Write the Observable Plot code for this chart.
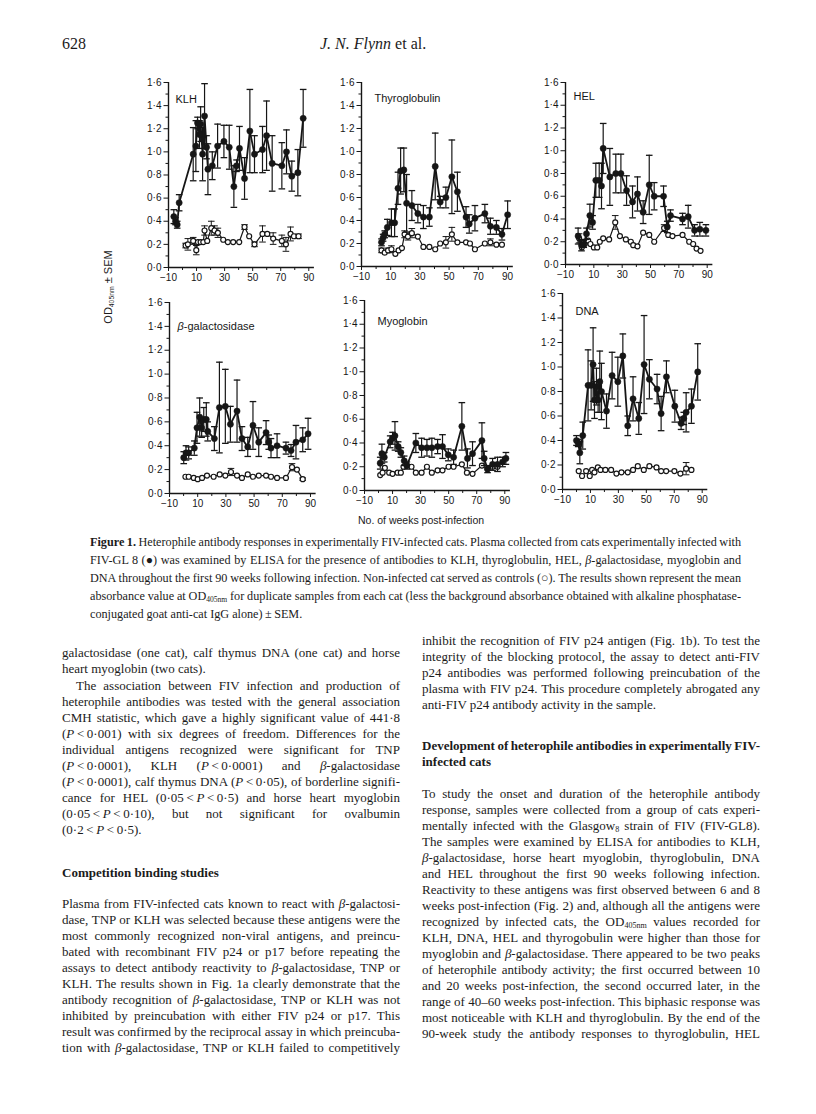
<!DOCTYPE html>
<html>
<head>
<meta charset="utf-8">
<script src="https://cdn.jsdelivr.net/npm/d3@7"></script>
<script src="https://cdn.jsdelivr.net/npm/@observablehq/plot@0.6"></script>
<style>
html,body{margin:0;padding:0;background:#fff;}
body{width:816px;height:1114px;position:relative;overflow:hidden;font-family:"Liberation Serif","Times New Roman",serif;color:#1b1b1b;}
.abs{position:absolute;white-space:nowrap;}
.panel{position:absolute;}
.panel svg{overflow:visible;}
.ln{position:absolute;white-space:nowrap;font-size:13px;line-height:16px;}
.cap{position:absolute;white-space:nowrap;font-size:12.2px;line-height:18px;}
sub{font-size:0.62em;vertical-align:-0.25em;line-height:0;}
.sans{font-family:"Liberation Sans",Arial,sans-serif;}
</style>
</head>
<body>
<div class="abs" style="left:62px;top:35px;font-size:16px;">628</div>
<div class="abs" style="left:320px;top:35px;font-size:16px;"><i>J. N. Flynn</i> et al.</div>

<div id="panels"></div>

<div class="abs sans" id="ylab" style="font-size:11px;left:58px;top:280px;width:100px;height:14px;line-height:14px;text-align:center;transform:rotate(-90deg);transform-origin:50px 7px;">OD<sub>405nm</sub> ± SEM</div>
<div class="abs sans" style="font-size:10.5px;left:358px;top:514px;">No. of weeks post-infection</div>

<div id="text"></div>

<script>
// ---------------- data: [week, mean OD405nm, SEM] ----------------
const weekTicks = [-10, 10, 30, 50, 70, 90];
const weekMinorTicks = [0, 20, 40, 60, 80];
const odTicks = [0, 0.2, 0.4, 0.6, 0.8, 1.0, 1.2, 1.4, 1.6];
const odMinorTicks = [0.1, 0.3, 0.5, 0.7, 0.9, 1.1, 1.3, 1.5];
const panelTitles = ["KLH", "Thyroglobulin", "HEL", "β-galactosidase", "Myoglobin", "DNA"];

const klhInfected = [[-6.2,0.44,0.06],[-5.0,0.40,0.03],[-3.8,0.37,0.03],[-2.4,0.56,0.07],[7.6,0.98,0.23],[9.5,1.05,0.22],[10.7,1.25,0.05],[12.1,1.15,0.12],[12.9,1.24,0.15],[14.3,0.98,0.23],[15.7,1.31,0.28],[17.1,1.04,0.10],[18.1,0.85,0.22],[21.2,0.88,0.12],[25.0,1.05,0.19],[29.5,1.09,0.14],[33.3,1.04,0.19],[36.6,0.70,0.18],[38.5,0.88,0.05],[40.6,1.03,0.19],[44.2,0.77,0.18],[48.0,1.18,0.36],[51.3,0.98,0.16],[57.0,1.02,0.20],[59.9,1.14,0.30],[63.9,0.90,0.24],[70.8,0.88,0.20],[74.1,1.00,0.19],[77.9,0.79,0.13],[82.2,0.82,0.20],[86.0,1.29,0.25]];
const klhControl = [[2.2,0.19,0.02],[3.8,0.20,0.05],[7.6,0.23,0.03],[9.8,0.15,0.04],[11.0,0.22,0],[12.9,0.22,0],[14.8,0.22,0],[15.7,0.32,0.04],[17.6,0.23,0],[20.5,0.34,0.06],[22.8,0.32,0.04],[25.2,0.30,0.04],[29.0,0.24,0],[32.3,0.22,0],[36.1,0.22,0],[40.4,0.22,0],[44.2,0.35,0.02],[47.5,0.27,0],[51.3,0.20,0.02],[57.0,0.29,0.07],[60.4,0.29,0],[64.6,0.25,0.05],[70.8,0.23,0.05],[73.7,0.20,0.06],[77.0,0.29,0.06],[79.4,0.27,0],[82.7,0.27,0.02]];

const thyInfected = [[3.7,0.21,0.03],[4.8,0.25,0.03],[5.9,0.28,0.03],[7.7,0.34,0.07],[10.5,0.38,0.12],[12.7,0.38,0.12],[15.0,0.68,0.14],[16.8,0.83,0.20],[19.0,0.84,0.19],[20.9,0.55,0.25],[24.5,0.53,0.13],[28.6,0.46,0.08],[32.4,0.43,0.10],[36.5,0.43,0.08],[40.5,0.87,0.29],[43.9,0.56,0.05],[47.8,0.60,0.09],[51.9,0.78,0.32],[55.7,0.65,0.17],[61.6,0.43,0.09],[63.8,0.37,0.08],[67.7,0.42,0.11],[74.5,0.46,0.08],[78.3,0.35,0.07],[82.4,0.34,0.06],[86.2,0.28,0.05],[90.1,0.45,0.12]];
const thyControl = [[3.7,0.14,0.02],[5.9,0.12,0],[8.2,0.14,0.02],[10.5,0.15,0.03],[13.2,0.11,0],[15.4,0.14,0],[17.7,0.16,0],[19.5,0.28,0.03],[21.8,0.26,0.03],[24.5,0.29,0.04],[28.6,0.26,0],[32.4,0.17,0],[36.5,0.17,0],[40.5,0.15,0],[43.9,0.20,0],[47.8,0.21,0.05],[51.9,0.28,0.06],[55.7,0.21,0],[61.6,0.21,0],[64.3,0.20,0],[67.7,0.15,0],[74.5,0.20,0],[78.3,0.21,0.03],[82.4,0.19,0],[86.2,0.19,0]];

const helInfected = [[-1.1,0.25,0.07],[1.3,0.17,0.05],[2.9,0.18,0.03],[4.8,0.27,0.05],[7.2,0.43,0.10],[9.1,0.37,0.06],[11.4,0.74,0.15],[13.8,0.74,0.15],[15.4,0.69,0.20],[16.6,1.02,0.22],[21.3,0.77,0.25],[25.5,0.80,0.17],[29.1,0.80,0.17],[33.1,0.65,0.13],[37.3,0.55,0.14],[40.8,0.62,0.15],[44.8,0.46,0.10],[49.1,0.70,0.26],[52.6,0.60,0.12],[59.2,0.60,0.09],[61.8,0.33,0.05],[64.1,0.43,0.05],[72.6,0.40,0.05],[76.6,0.42,0.10],[81.1,0.30,0.05],[84.8,0.31,0.06],[89.1,0.30,0.05]];
const helControl = [[-0.4,0.23,0.04],[1.5,0.15,0],[3.6,0.18,0],[6.0,0.21,0],[7.6,0.18,0],[10.0,0.15,0],[12.4,0.15,0],[14.2,0.20,0],[16.6,0.23,0],[20.8,0.22,0],[25.1,0.37,0.06],[28.4,0.25,0],[32.6,0.22,0],[36.1,0.20,0],[37.8,0.17,0],[40.8,0.16,0],[44.8,0.28,0],[49.1,0.26,0],[52.6,0.20,0],[59.6,0.32,0.03],[62.5,0.26,0],[65.5,0.25,0],[72.6,0.26,0],[77.3,0.20,0],[80.1,0.18,0],[82.5,0.14,0],[85.3,0.12,0]];

const bgalInfected = [[0.1,0.30,0.05],[1.7,0.34,0.06],[3.6,0.34,0.05],[7.6,0.38,0.06],[9.5,0.55,0.13],[11.4,0.64,0.16],[12.8,0.55,0.08],[14.3,0.62,0.10],[16.1,0.62,0.14],[17.1,0.52,0.08],[21.8,0.46,0.10],[25.4,0.72,0.38],[29.6,0.73,0.31],[33.2,0.58,0.15],[37.9,0.69,0.26],[41.4,0.46,0.10],[45.5,0.39,0.08],[49.2,0.57,0.20],[53.3,0.43,0.12],[58.5,0.51,0.10],[60.4,0.43,0.06],[62.0,0.38,0.08],[66.3,0.40,0.10],[72.6,0.38,0.05],[76.2,0.36,0.05],[79.7,0.43,0.14],[84.5,0.45,0.10],[88.3,0.50,0.13]];
const bgalControl = [[1.3,0.14,0],[3.6,0.14,0],[7.2,0.13,0],[10.0,0.12,0],[13.1,0.13,0],[16.6,0.15,0],[21.3,0.14,0],[25.6,0.16,0],[29.6,0.15,0],[33.6,0.18,0.03],[37.9,0.15,0],[41.4,0.13,0],[45.5,0.16,0],[49.2,0.14,0],[53.3,0.15,0],[58.5,0.15,0],[62.0,0.14,0],[66.3,0.13,0],[72.6,0.13,0],[76.9,0.22,0.03],[80.4,0.20,0],[84.5,0.12,0.01]];

const myoInfected = [[1.2,0.23,0.05],[2.4,0.31,0.08],[4.1,0.28,0.04],[8.3,0.41,0.05],[10.0,0.44,0.05],[11.7,0.46,0.12],[14.0,0.37,0.04],[15.9,0.32,0.04],[18.3,0.25,0.04],[20.2,0.21,0.03],[26.6,0.40,0.08],[30.7,0.36,0.08],[34.5,0.36,0.07],[38.0,0.36,0.08],[42.1,0.37,0.06],[45.6,0.37,0.10],[49.7,0.30,0.05],[53.5,0.28,0.06],[59.4,0.54,0.20],[63.4,0.27,0.08],[67.0,0.31,0.10],[73.7,0.42,0.15],[75.3,0.27,0.06],[77.7,0.18,0.03],[81.3,0.22,0.05],[84.8,0.22,0.06],[88.4,0.24,0.04],[90.8,0.27,0.05]];
const myoControl = [[1.2,0.13,0],[2.9,0.15,0],[4.5,0.19,0],[7.6,0.15,0],[10.0,0.14,0],[13.6,0.15,0],[15.9,0.15,0],[17.8,0.20,0],[20.2,0.21,0],[23.5,0.20,0],[26.6,0.15,0],[30.7,0.15,0],[34.5,0.20,0],[38.0,0.15,0],[42.1,0.17,0],[45.6,0.17,0],[49.9,0.20,0],[53.5,0.20,0],[59.4,0.22,0],[63.0,0.15,0],[67.0,0.14,0],[73.7,0.21,0],[77.7,0.18,0],[81.3,0.20,0],[84.8,0.20,0]];

const dnaInfected = [[0.0,0.40,0.04],[1.2,0.38,0.03],[2.4,0.30,0.09],[4.5,0.44,0.11],[8.3,0.85,0.29],[10.5,0.85,0.20],[11.9,1.02,0.30],[12.9,0.73,0.15],[14.3,0.84,0.15],[15.5,0.73,0.10],[16.7,0.88,0.25],[17.9,0.80,0.23],[21.5,0.64,0.14],[25.5,0.93,0.19],[29.6,0.88,0.20],[33.2,1.09,0.18],[36.7,0.52,0.08],[40.5,0.74,0.18],[44.6,0.58,0.13],[48.4,1.02,0.40],[52.2,0.90,0.16],[57.7,0.82,0.12],[60.6,0.62,0.14],[64.4,0.92,0.13],[70.4,0.68,0.13],[74.9,0.54,0.05],[76.8,0.58,0.05],[78.5,0.63,0.16],[82.3,0.68,0.14],[86.8,0.96,0.23]];
const dnaControl = [[1.6,0.15,0],[4.0,0.11,0],[6.9,0.15,0],[9.5,0.11,0],[11.2,0.16,0],[12.9,0.14,0],[15.3,0.18,0],[17.2,0.16,0],[20.7,0.16,0],[24.8,0.16,0],[28.6,0.13,0],[32.2,0.14,0],[36.7,0.14,0],[40.5,0.16,0],[43.9,0.19,0],[48.2,0.16,0],[52.2,0.19,0],[57.3,0.18,0],[60.6,0.15,0],[64.2,0.15,0],[70.1,0.15,0],[74.4,0.13,0],[78.5,0.17,0.05],[82.3,0.16,0]];

// ---------------- layout (pixel placement of each panel) ----------------
const panelLayout = [
  {title: panelTitles[0], infected: klhInfected,  control: klhControl,  x0: 168, ppw: 1.403, topY: 82,  zeroY: 267, tdx: 7,  tdy: 13},
  {title: panelTitles[1], infected: thyInfected,  control: thyControl,  x0: 361, ppw: 1.46,  topY: 82,  zeroY: 266, tdx: 13, tdy: 12},
  {title: panelTitles[2], infected: helInfected,  control: helControl,  x0: 565, ppw: 1.417, topY: 82,  zeroY: 264, tdx: 8,  tdy: 10},
  {title: panelTitles[3], infected: bgalInfected, control: bgalControl, x0: 169, ppw: 1.41,  topY: 302, zeroY: 493, tdx: 8,  tdy: 20},
  {title: panelTitles[4], infected: myoInfected,  control: myoControl,  x0: 364, ppw: 1.403, topY: 300, zeroY: 490, tdx: 13, tdy: 17},
  {title: panelTitles[5], infected: dnaInfected,  control: dnaControl,  x0: 562, ppw: 1.397, topY: 293, zeroY: 489, tdx: 13, tdy: 14}
];

const ink = "#161616";
const fmtY = d => d.toFixed(1).replace(".", "·");
const fmtX = d => d < 0 ? "−" + (-d) : String(d);
const capSymbol = {draw(ctx) { ctx.moveTo(-3.3, 0); ctx.lineTo(3.3, 0); }};
const wk = d => d[0], mean = d => d[1], lo = d => d[1] - d[2], hi = d => d[1] + d[2];
const withErr = arr => arr.filter(d => d[2] > 0);

const holder = document.getElementById("panels");
for (const p of panelLayout) {
  const mL = 32, mR = 8, mT = 6, mB = 26;
  const xMin = -10, xMax = 94;
  const plotW = (xMax - xMin) * p.ppw;
  const plotH = p.zeroY - p.topY;
  const chart = Plot.plot({
    width: mL + plotW + mR,
    height: mT + plotH + mB,
    marginLeft: mL, marginRight: mR, marginTop: mT, marginBottom: mB,
    style: {fontFamily: "'Liberation Sans', Arial, sans-serif", fontSize: "10px", color: ink, background: "transparent", overflow: "visible"},
    x: {domain: [xMin, xMax]},
    y: {domain: [0, 1.6]},
    marks: [
      Plot.axisY({ticks: odMinorTicks, tickSize: 2.5, tickFormat: () => "", label: null, stroke: ink}),
      Plot.axisY({ticks: odTicks, tickSize: 4.5, tickPadding: 2.5, tickFormat: fmtY, label: null, stroke: ink, fill: ink, fontSize: 10}),
      Plot.axisX({ticks: weekMinorTicks, tickSize: 3, tickFormat: () => "", label: null, stroke: ink}),
      Plot.axisX({ticks: weekTicks, tickSize: 4, tickPadding: 2.5, tickFormat: fmtX, label: null, stroke: ink, fill: ink, fontSize: 10}),
      Plot.ruleX([xMin], {y1: 0, y2: 1.6, stroke: ink, strokeWidth: 1.4}),
      Plot.ruleY([0], {x1: xMin, x2: xMax, stroke: ink, strokeWidth: 1.4}),
      // controls (open symbols)
      Plot.ruleX(withErr(p.control), {x: wk, y1: lo, y2: hi, stroke: ink, strokeWidth: 1}),
      Plot.dot(withErr(p.control), {x: wk, y: hi, symbol: capSymbol, fill: "none", stroke: ink, strokeWidth: 1}),
      Plot.dot(withErr(p.control), {x: wk, y: lo, symbol: capSymbol, fill: "none", stroke: ink, strokeWidth: 1}),
      Plot.line(p.control, {x: wk, y: mean, stroke: ink, strokeWidth: 1.2}),
      Plot.dot(p.control, {x: wk, y: mean, r: 2.5, fill: "white", stroke: ink, strokeWidth: 1.2}),
      // infected (filled symbols)
      Plot.ruleX(withErr(p.infected), {x: wk, y1: lo, y2: hi, stroke: ink, strokeWidth: 1.2}),
      Plot.dot(withErr(p.infected), {x: wk, y: hi, symbol: capSymbol, fill: "none", stroke: ink, strokeWidth: 1.3}),
      Plot.dot(withErr(p.infected), {x: wk, y: lo, symbol: capSymbol, fill: "none", stroke: ink, strokeWidth: 1.3}),
      Plot.line(p.infected, {x: wk, y: mean, stroke: ink, strokeWidth: 1.8}),
      Plot.dot(p.infected, {x: wk, y: mean, r: 3.1, fill: ink, stroke: ink, strokeWidth: 0.5}),
      Plot.text([p.title], {frameAnchor: "top-left", dx: p.tdx, dy: p.tdy, textAnchor: "start", fontSize: 11, fill: ink})
    ]
  });
  chart.querySelectorAll("text").forEach(t => {
    if (t.textContent === "β-galactosidase") t.innerHTML = '<tspan font-style="italic">β</tspan>-galactosidase';
  });
  const wrap = document.createElement("div");
  wrap.className = "panel";
  wrap.style.left = (p.x0 - mL) + "px";
  wrap.style.top = (p.topY - mT) + "px";
  wrap.appendChild(chart);
  holder.appendChild(wrap);
}

// ---------------- page text (one entry per printed line) ----------------
const T = "&thinsp;";
const captionLines = [
  ["<b>Figure 1.</b> Heterophile antibody responses in experimentally FIV-infected cats. Plasma collected from cats experimentally infected with", 1],
  ["FIV-GL 8 (●) was examined by ELISA for the presence of antibodies to KLH, thyroglobulin, HEL, <i>β</i>-galactosidase, myoglobin and", 1],
  ["DNA throughout the first 90 weeks following infection. Non-infected cat served as controls (○). The results shown represent the mean", 1],
  ["absorbance value at OD<sub>405nm</sub> for duplicate samples from each cat (less the background absorbance obtained with alkaline phosphatase-", 1],
  ["conjugated goat anti-cat IgG" + "&nbsp;alone)" + T + "±" + T + "SEM.", 0]
];
const leftLines = [
  [653, "galactosidase (one cat), calf thymus DNA (one cat) and horse", 1, 0],
  [669, "heart myoglobin (two cats).", 0, 0],
  [686, "The association between FIV infection and production of", 1, 14],
  [702, "heterophile antibodies was tested with the general association", 1, 0],
  [718, "CMH statistic, which gave a highly significant value of 441·8", 1, 0],
  [734, "(<i>P</i>" + T + "&lt;" + T + "0·001) with six degrees of freedom. Differences for the", 1, 0],
  [750, "individual antigens recognized were significant for TNP", 1, 0],
  [766, "(<i>P</i>" + T + "&lt;" + T + "0·0001), KLH (<i>P</i>" + T + "&lt;" + T + "0·0001) and <i>β</i>-galactosidase", 1, 0],
  [782, "(<i>P</i>" + T + "&lt;" + T + "0·0001), calf thymus DNA (<i>P</i>" + T + "&lt;" + T + "0·05), of borderline signifi-", 1, 0],
  [798, "cance for HEL (0·05" + T + "&lt;" + T + "<i>P</i>" + T + "&lt;" + T + "0·5) and horse heart myoglobin", 1, 0],
  [814, "(0·05" + T + "&lt;" + T + "<i>P</i>" + T + "&lt;" + T + "0·10), but not significant for ovalbumin", 1, 0],
  [830, "(0·2" + T + "&lt;" + T + "<i>P</i>" + T + "&lt;" + T + "0·5).", 0, 0],
  [873, "<b>Competition binding studies</b>", 0, 0],
  [904, "Plasma from FIV-infected cats known to react with <i>β</i>-galactosi-", 1, 0],
  [920, "dase, TNP or KLH was selected because these antigens were the", 1, 0],
  [936, "most commonly recognized non-viral antigens, and preincu-", 1, 0],
  [952, "bated with recombinant FIV p24 or p17 before repeating the", 1, 0],
  [968, "assays to detect antibody reactivity to <i>β</i>-galactosidase, TNP or", 1, 0],
  [984, "KLH. The results shown in Fig. 1a clearly demonstrate that the", 1, 0],
  [1000, "antibody recognition of <i>β</i>-galactosidase, TNP or KLH was not", 1, 0],
  [1016, "inhibited by preincubation with either FIV p24 or p17. This", 1, 0],
  [1032, "result was confirmed by the reciprocal assay in which preincuba-", 1, 0],
  [1048, "tion with <i>β</i>-galactosidase, TNP or KLH failed to competitively", 1, 0]
];
const rightLines = [
  [641, "inhibit the recognition of FIV p24 antigen (Fig. 1b). To test the", 1, 0],
  [657, "integrity of the blocking protocol, the assay to detect anti-FIV", 1, 0],
  [673, "p24 antibodies was performed following preincubation of the", 1, 0],
  [689, "plasma with FIV p24. This procedure completely abrogated any", 1, 0],
  [705, "anti-FIV p24 antibody activity in the sample.", 0, 0],
  [746, "<b>Development of heterophile antibodies in experimentally FIV-</b>", 1, 0],
  [762, "<b>infected cats</b>", 0, 0],
  [794, "To study the onset and duration of the heterophile antibody", 1, 0],
  [810, "response, samples were collected from a group of cats experi-", 1, 0],
  [826, "mentally infected with the Glasgow<sub>8</sub> strain of FIV (FIV-GL8).", 1, 0],
  [842, "The samples were examined by ELISA for antibodies to KLH,", 1, 0],
  [858, "<i>β</i>-galactosidase, horse heart myoglobin, thyroglobulin, DNA", 1, 0],
  [874, "and HEL throughout the first 90 weeks following infection.", 1, 0],
  [890, "Reactivity to these antigens was first observed between 6 and 8", 1, 0],
  [906, "weeks post-infection (Fig. 2) and, although all the antigens were", 1, 0],
  [922, "recognized by infected cats, the OD<sub>405nm</sub> values recorded for", 1, 0],
  [938, "KLH, DNA, HEL and thyrogobulin were higher than those for", 1, 0],
  [954, "myoglobin and <i>β</i>-galactosidase. There appeared to be two peaks", 1, 0],
  [970, "of heterophile antibody activity; the first occurred between 10", 1, 0],
  [986, "and 20 weeks post-infection, the second occurred later, in the", 1, 0],
  [1002, "range of 40–60 weeks post-infection. This biphasic response was", 1, 0],
  [1018, "most noticeable with KLH and thyroglobulin. By the end of the", 1, 0],
  [1034, "90-week study the antibody responses to thyroglobulin, HEL", 1, 0]
];

const textHolder = document.getElementById("text");
const toFit = [];
function addLine(cls, html, left, top, width, justify) {
  const el = document.createElement("div");
  el.className = cls;
  el.innerHTML = html;
  el.style.left = left + "px";
  el.style.top = top + "px";
  textHolder.appendChild(el);
  if (justify) toFit.push([el, width]);
}
captionLines.forEach(([h, j], i) => addLine("cap", h, 90, 533 + i * 18, 651, j));
leftLines.forEach(([y, h, j, ind]) => addLine("ln", h, 62 + ind, y - 8, 338 - ind, j));
rightLines.forEach(([y, h, j, ind]) => addLine("ln", h, 422 + ind, y - 8, 338 - ind, j));

function fitAll() {
  for (const [el, target] of toFit) {
    el.style.wordSpacing = "0px";
    el.style.letterSpacing = "0px";
    const w = el.getBoundingClientRect().width;
    const n = (el.textContent.match(/ /g) || []).length;
    if (!n) continue;
    let ws = (target - w) / n;
    if (ws < -1.0) {
      const chars = el.textContent.length;
      const rest = (target - w) - (-1.0 * n);
      el.style.letterSpacing = (rest / chars) + "px";
      ws = -1.0;
    }
    el.style.wordSpacing = ws + "px";
  }
}
fitAll();
if (document.fonts && document.fonts.ready) document.fonts.ready.then(fitAll);
</script>
</body>
</html>
